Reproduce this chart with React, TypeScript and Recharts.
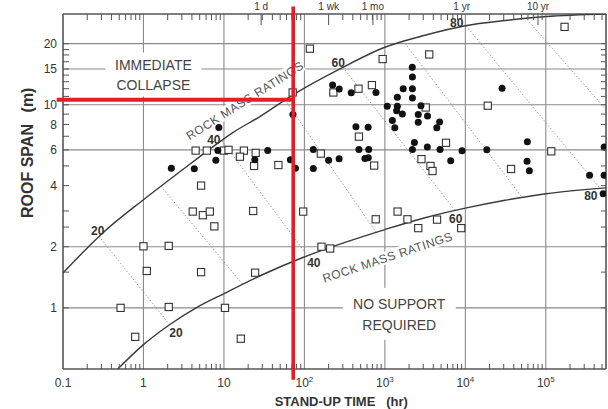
import React from 'react';
import {
  ScatterChart,
  Scatter,
  XAxis,
  YAxis,
  CartesianGrid,
  ReferenceLine,
  ReferenceDot,
} from 'recharts';

const FONT = '"Liberation Sans", Arial, Helvetica, sans-serif';

// ---------- axes ----------
const X_DOMAIN: [number, number] = [0.1, 560000];
const Y_DOMAIN: [number, number] = [0.5, 28];

const decades = [0.1, 1, 10, 100, 1000, 10000, 100000];
const decadeLabels = [
  { base: '0.1', exp: '' },
  { base: '1', exp: '' },
  { base: '10', exp: '' },
  { base: '10', exp: '2' },
  { base: '10', exp: '3' },
  { base: '10', exp: '4' },
  { base: '10', exp: '5' },
];
const minorMultipliers = [2, 3, 4, 5, 6, 7, 8, 9];

const timeTicks = [29, 200, 710, 9000, 80000];
const timeLabels = ['1 d', '1 wk', '1 mo', '1 yr', '10 yr'];

const minorXTicks = decades
  .flatMap((d) => minorMultipliers.map((m) => +(d * m).toPrecision(3)))
  .filter((v) => v < X_DOMAIN[1]);
const topMinorTicks = minorXTicks.filter((v) => !timeTicks.includes(v));

const spanTicks = [1, 1.5, 2, 2.5, 3, 4, 5, 6, 7, 8, 9, 10, 11, 12, 13, 14, 15, 16.3, 17.6, 18.7, 20];
const spanLabels = [1, 2, 4, 6, 8, 10, 15, 20];

const gridX = [1, 10, 100, 1000, 10000, 100000];
const gridY = [1, 2, 6, 10, 15, 20];

// ---------- case histories ----------
const supportedCases = [
  { x: 2.22, y: 4.87 }, { x: 4.28, y: 4.84 }, { x: 7.93, y: 5.33 }, { x: 8.4, y: 5.95 },
  { x: 8.64, y: 7.73 }, { x: 24.2, y: 5.37 }, { x: 35, y: 5.95 }, { x: 67, y: 5.36 },
  { x: 77.3, y: 4.87 }, { x: 72, y: 8.95 }, { x: 129, y: 6.02 }, { x: 129, y: 4.85 },
  { x: 200, y: 5.34 }, { x: 270, y: 5.42 }, { x: 224, y: 12.5 }, { x: 271, y: 11.95 },
  { x: 382, y: 11.45 }, { x: 775, y: 11.5 }, { x: 437, y: 7.8 }, { x: 620, y: 7.76 },
  { x: 476, y: 6.02 }, { x: 630, y: 6.02 }, { x: 565, y: 5.44 }, { x: 622, y: 5.48 },
  { x: 2190, y: 15.3 }, { x: 2200, y: 13.7 }, { x: 2200, y: 12.0 }, { x: 1690, y: 12.0 },
  { x: 2200, y: 10.8 }, { x: 1430, y: 10.9 }, { x: 1070, y: 9.85 }, { x: 1430, y: 9.83 },
  { x: 1400, y: 9.36 }, { x: 1650, y: 9.0 }, { x: 2810, y: 9.9 }, { x: 2600, y: 8.95 },
  { x: 3390, y: 8.8 }, { x: 1240, y: 8.36 }, { x: 1330, y: 7.7 }, { x: 2600, y: 8.2 },
  { x: 4790, y: 8.22 }, { x: 4420, y: 7.7 }, { x: 2330, y: 6.52 }, { x: 2200, y: 6.02 },
  { x: 3370, y: 6.2 }, { x: 4850, y: 6.02 }, { x: 6580, y: 5.3 }, { x: 9100, y: 5.94 },
  { x: 18500, y: 6.0 }, { x: 28600, y: 12.05 }, { x: 59000, y: 6.57 }, { x: 58500, y: 5.27 },
  { x: 62500, y: 4.74 }, { x: 531000, y: 6.2 }, { x: 350000, y: 4.5 }, { x: 531000, y: 4.5 },
  { x: 516000, y: 3.65 },
];

const unsupportedCases = [
  { x: 0.52, y: 1.0 }, { x: 0.79, y: 0.72 }, { x: 1.0, y: 2.01 }, { x: 1.1, y: 1.52 },
  { x: 2.06, y: 2.02 }, { x: 2.06, y: 1.01 }, { x: 4.1, y: 2.98 }, { x: 5.2, y: 4.0 },
  { x: 5.47, y: 2.86 }, { x: 6.68, y: 2.98 }, { x: 7.6, y: 2.52 }, { x: 5.2, y: 1.5 },
  { x: 10.3, y: 1.0 }, { x: 16.2, y: 0.705 }, { x: 23.1, y: 3.0 }, { x: 24.4, y: 1.49 },
  { x: 96.6, y: 2.98 }, { x: 4.45, y: 5.95 }, { x: 6.13, y: 5.95 }, { x: 9.97, y: 5.95 },
  { x: 11.4, y: 6.0 }, { x: 17.7, y: 5.95 }, { x: 24.8, y: 5.8 }, { x: 15.8, y: 5.55 },
  { x: 23.7, y: 5.0 }, { x: 47.5, y: 5.05 }, { x: 71.5, y: 11.5 }, { x: 117, y: 18.9 },
  { x: 939, y: 16.8 }, { x: 3560, y: 17.7 }, { x: 229, y: 11.5 }, { x: 470, y: 12.0 },
  { x: 690, y: 12.5 }, { x: 3220, y: 9.7 }, { x: 476, y: 6.97 }, { x: 160, y: 5.75 },
  { x: 736, y: 5.02 }, { x: 5750, y: 6.5 }, { x: 2850, y: 5.4 }, { x: 3690, y: 5.0 },
  { x: 3910, y: 4.72 }, { x: 19000, y: 9.9 }, { x: 37000, y: 4.83 }, { x: 117000, y: 5.9 },
  { x: 171000, y: 24.2 }, { x: 770, y: 2.73 }, { x: 1440, y: 2.98 }, { x: 1910, y: 2.73 },
  { x: 2600, y: 2.47 }, { x: 4450, y: 2.72 }, { x: 8890, y: 2.47 }, { x: 163, y: 2.0 },
  { x: 209, y: 1.96 },
];

// ---------- boundary curves ----------
const collapseBoundary = [
  { x: 0.1, y: 1.485 }, { x: 0.312, y: 2.34 }, { x: 1, y: 3.41 }, { x: 3.08, y: 4.8 },
  { x: 6.31, y: 5.95 }, { x: 12.9, y: 7.3 }, { x: 28, y: 8.75 }, { x: 72, y: 11.2 },
  { x: 301, y: 15.3 }, { x: 1000, y: 19.2 }, { x: 3150, y: 22.0 }, { x: 10000, y: 24.5 },
  { x: 31200, y: 26.0 }, { x: 100900, y: 27.2 }, { x: 560000, y: 28.0 },
];
const noSupportBoundary = [
  { x: 0.479, y: 0.5 }, { x: 1, y: 0.659 }, { x: 2.11, y: 0.826 }, { x: 4.51, y: 1.0 },
  { x: 10.2, y: 1.18 }, { x: 30.5, y: 1.46 }, { x: 95.7, y: 1.77 }, { x: 319, y: 2.1 },
  { x: 1000, y: 2.43 }, { x: 3150, y: 2.78 }, { x: 10000, y: 3.1 }, { x: 31200, y: 3.39 },
  { x: 100900, y: 3.65 }, { x: 560000, y: 3.9 },
];

// ---------- RMR contour lines ----------
const rmrContours = [
  { rmr: 20, from: { x: 0.28, y: 2.25 }, to: { x: 2.12, y: 0.826 } },
  { rmr: 30, from: { x: 1.65, y: 3.97 }, to: { x: 17, y: 1.31 } },
  { rmr: 40, from: { x: 9.42, y: 6.67 }, to: { x: 110, y: 1.8 } },
  { rmr: 50, from: { x: 57.2, y: 10.6 }, to: { x: 775, y: 2.36 } },
  { rmr: 60, from: { x: 301, y: 15.3 }, to: { x: 7450, y: 3.02 } },
  { rmr: 70, from: { x: 1680, y: 20.7 }, to: { x: 50700, y: 3.5 } },
  { rmr: 80, from: { x: 10200, y: 24.5 }, to: { x: 473700, y: 3.87 } },
  { rmr: 90, from: { x: 58500, y: 26.3 }, to: { x: 560000, y: 9.47 } },
];

const rmrLabels = [
  { text: '20', x: 0.27, y: 2.41 },
  { text: '20', x: 2.54, y: 0.752 },
  { text: '40', x: 7.49, y: 6.74 },
  { text: '40', x: 131, y: 1.66 },
  { text: '60', x: 263, y: 16.1 },
  { text: '60', x: 7600, y: 2.74 },
  { text: '80', x: 7820, y: 25.3 },
  { text: '80', x: 362700, y: 3.57 },
];

const zoneLabels = [
  { lines: ['IMMEDIATE', 'COLLAPSE'], x: 1.33, y: 14.1, boxW: 96, boxH: 44 },
  { lines: ['NO SUPPORT', 'REQUIRED'], x: 1510, y: 0.934, boxW: 113, boxH: 52 },
];

const ratingCaptions = [
  { text: 'ROCK MASS RATINGS', x: 18.2, y: 10.5, angle: -32.3 },
  { text: 'ROCK MASS RATINGS', x: 1077, y: 1.777, angle: -18.4 },
];

// red annotation (span ~10.6 m, stand-up time ~72 hr)
const markerTime = 72.6;
const markerSpan = 10.6;
const markerVertical = [{ x: markerTime, y: 0.443 }, { x: markerTime, y: 30.5 }];
const markerHorizontal = [{ x: 0.0835, y: markerSpan }, { x: markerTime, y: markerSpan }];

// ---------- renderers ----------
const AXIS = '#555';
const TXT = '#353535';

const BottomTick = (p: any) => {
  const { x, y, payload } = p;
  const i = decades.indexOf(payload.value);
  if (i < 0) return <line x1={x} x2={x} y1={y} y2={y - 5} stroke={AXIS} strokeWidth={1} />;
  const lab = decadeLabels[i];
  return (
    <text x={x} y={y + 18} textAnchor="middle" fontSize={12} fill={TXT} fontFamily={FONT}>
      {lab.base}
      {lab.exp ? (
        <tspan dy={-5} fontSize={8}>
          {lab.exp}
        </tspan>
      ) : null}
    </text>
  );
};

const TopTick = (p: any) => {
  const { x, y, payload } = p;
  const i = timeTicks.indexOf(payload.value);
  if (i < 0) return <line x1={x} x2={x} y1={y} y2={y + 6} stroke={AXIS} strokeWidth={1} />;
  return (
    <g>
      <line x1={x} x2={x} y1={y} y2={y + 11} stroke={AXIS} strokeWidth={1} />
      <text x={x} y={y - 4} textAnchor="middle" fontSize={10} fill={TXT} fontFamily={FONT}>
        {timeLabels[i]}
      </text>
    </g>
  );
};

const LeftTick = (p: any) => {
  const { x, y, payload } = p;
  const v = payload.value;
  const labelled = spanLabels.includes(v);
  return (
    <g>
      <line x1={x} x2={x + 6} y1={y} y2={y} stroke={AXIS} strokeWidth={1} />
      {labelled ? (
        <text x={x - 6} y={y + 4.3} textAnchor="end" fontSize={12} fill={TXT} fontFamily={FONT}>
          {v}
        </text>
      ) : null}
    </g>
  );
};

const RightTick = (p: any) => {
  const { x, y } = p;
  return <line x1={x - 5} x2={x} y1={y} y2={y} stroke={AXIS} strokeWidth={1} />;
};

const NoShape = () => <g />;

const FilledDot = (p: any) => <circle cx={p.cx} cy={p.cy} r={3.5} fill="#111" />;
const OpenSquare = (p: any) => (
  <rect x={p.cx - 3.6} y={p.cy - 3.6} width={7.2} height={7.2} fill="#fff" stroke="#333" strokeWidth={1.1} />
);

const makeZoneLabel = (lab: (typeof zoneLabels)[number]) => (p: any) => (
  <g>
    <rect x={p.cx - lab.boxW / 2} y={p.cy - lab.boxH / 2} width={lab.boxW} height={lab.boxH} fill="#fff" />
    <text x={p.cx} y={p.cy - 4.5} textAnchor="middle" fontSize={14} fill="#444" fontFamily={FONT}>
      {lab.lines[0]}
    </text>
    <text x={p.cx} y={p.cy + 15.7} textAnchor="middle" fontSize={14} fill="#444" fontFamily={FONT}>
      {lab.lines[1]}
    </text>
  </g>
);

const makeCaption = (c: (typeof ratingCaptions)[number]) => (p: any) => (
  <g transform={`translate(${p.cx},${p.cy}) rotate(${c.angle})`}>
    <rect x={-68} y={-6.5} width={136} height={13} fill="#fff" />
    <text x={0} y={4.3} textAnchor="middle" fontSize={12} letterSpacing={0.5} fill="#555" fontFamily={FONT}>
      {c.text}
    </text>
  </g>
);

const makeRmrLabel = (l: (typeof rmrLabels)[number]) => (p: any) => (
  <text x={p.cx} y={p.cy + 4.3} textAnchor="middle" fontSize={12} fontWeight="bold" fill="#333" fontFamily={FONT}>
    {l.text}
  </text>
);

export default function App() {
  return (
    <div style={{ position: 'absolute', left: 0, top: 0, width: 608, height: 409, background: '#fff' }}>
      <ScatterChart width={608} height={409} margin={{ top: 0, right: 0, bottom: 0, left: 0 }}>
        <CartesianGrid
          xAxisId="b"
          yAxisId="l"
          horizontalValues={gridY}
          verticalValues={gridX}
          stroke="#8a8a8a"
          strokeWidth={1.1}
        />
        <XAxis
          xAxisId="b"
          orientation="bottom"
          type="number"
          dataKey="x"
          scale="log"
          domain={X_DOMAIN}
          allowDataOverflow
          ticks={[...decades, ...minorXTicks]}
          interval={0}
          tick={BottomTick}
          tickLine={false}
          tickSize={0}
          tickMargin={0}
          height={40}
          axisLine={{ stroke: AXIS, strokeWidth: 1.6 }}
        />
        <XAxis
          xAxisId="t"
          orientation="top"
          type="number"
          dataKey="x"
          scale="log"
          domain={X_DOMAIN}
          allowDataOverflow
          ticks={[...topMinorTicks, ...timeTicks]}
          interval={0}
          tick={TopTick}
          tickLine={false}
          tickSize={0}
          tickMargin={0}
          height={14}
          axisLine={{ stroke: AXIS, strokeWidth: 1.6 }}
        />
        <YAxis
          yAxisId="l"
          orientation="left"
          type="number"
          dataKey="y"
          scale="log"
          domain={Y_DOMAIN}
          allowDataOverflow
          ticks={spanTicks}
          interval={0}
          tick={LeftTick}
          tickLine={false}
          tickSize={0}
          tickMargin={0}
          width={63}
          axisLine={{ stroke: AXIS, strokeWidth: 1.6 }}
        />
        <YAxis
          yAxisId="r"
          orientation="right"
          type="number"
          dataKey="y"
          scale="log"
          domain={Y_DOMAIN}
          allowDataOverflow
          ticks={spanTicks}
          interval={0}
          tick={RightTick}
          tickLine={false}
          tickSize={0}
          tickMargin={0}
          width={2}
          axisLine={{ stroke: AXIS, strokeWidth: 1.6 }}
        />

        {rmrContours.map((c) => (
          <ReferenceLine
            key={`c${c.rmr}`}
            xAxisId="b"
            yAxisId="l"
            segment={[c.from, c.to]}
            stroke="#8c8c8c"
            strokeWidth={0.9}
            strokeDasharray="1.4 2"
            ifOverflow="visible"
          />
        ))}

        {zoneLabels.map((lab, i) => (
          <ReferenceDot
            key={`z${i}`}
            xAxisId="b"
            yAxisId="l"
            x={lab.x}
            y={lab.y}
            r={1}
            shape={makeZoneLabel(lab)}
            ifOverflow="visible"
          />
        ))}
        {ratingCaptions.map((c, i) => (
          <ReferenceDot
            key={`rc${i}`}
            xAxisId="b"
            yAxisId="l"
            x={c.x}
            y={c.y}
            r={1}
            shape={makeCaption(c)}
            ifOverflow="visible"
          />
        ))}

        <Scatter
          xAxisId="b"
          yAxisId="l"
          data={collapseBoundary}
          line={{ stroke: '#3a3a3a', strokeWidth: 1.4 }}
          lineJointType="monotoneX"
          shape={NoShape}
          isAnimationActive={false}
        />
        <Scatter
          xAxisId="b"
          yAxisId="l"
          data={noSupportBoundary}
          line={{ stroke: '#3a3a3a', strokeWidth: 1.4 }}
          lineJointType="monotoneX"
          shape={NoShape}
          isAnimationActive={false}
        />

        {rmrLabels.map((l, i) => (
          <ReferenceDot
            key={`rl${i}`}
            xAxisId="b"
            yAxisId="l"
            x={l.x}
            y={l.y}
            r={1}
            shape={makeRmrLabel(l)}
            ifOverflow="visible"
          />
        ))}

        <Scatter
          xAxisId="b"
          yAxisId="l"
          data={unsupportedCases}
          shape={OpenSquare}
          isAnimationActive={false}
        />
        <Scatter
          xAxisId="b"
          yAxisId="l"
          data={supportedCases}
          shape={FilledDot}
          isAnimationActive={false}
        />

        <ReferenceLine
          xAxisId="b"
          yAxisId="l"
          segment={markerHorizontal}
          stroke="#e81c24"
          strokeWidth={4}
          ifOverflow="visible"
          zIndex={3000}
        />
        <ReferenceLine
          xAxisId="b"
          yAxisId="l"
          segment={markerVertical}
          stroke="#e81c24"
          strokeWidth={3.6}
          ifOverflow="visible"
          zIndex={3000}
        />
      </ScatterChart>

      <svg
        width={608}
        height={409}
        style={{ position: 'absolute', left: 0, top: 0, pointerEvents: 'none' }}
      >
        <text
          transform="translate(33.3,171) rotate(-90)"
          textAnchor="middle"
          fontSize={16}
          fontWeight="bold"
          fill="#333"
          fontFamily={FONT}
        >
          ROOF SPAN
        </text>
        <text
          transform="translate(33.3,100) rotate(-90)"
          textAnchor="middle"
          fontSize={16}
          fontWeight="bold"
          fill="#333"
          fontFamily={FONT}
        >
          (m)
        </text>
        <text x={325} y={405.5} textAnchor="middle" fontSize={13} fontWeight="bold" fill="#333" fontFamily={FONT}>
          STAND-UP TIME
        </text>
        <text x={397} y={405.5} textAnchor="middle" fontSize={13} fontWeight="bold" fill="#333" fontFamily={FONT}>
          (hr)
        </text>
      </svg>
    </div>
  );
}
